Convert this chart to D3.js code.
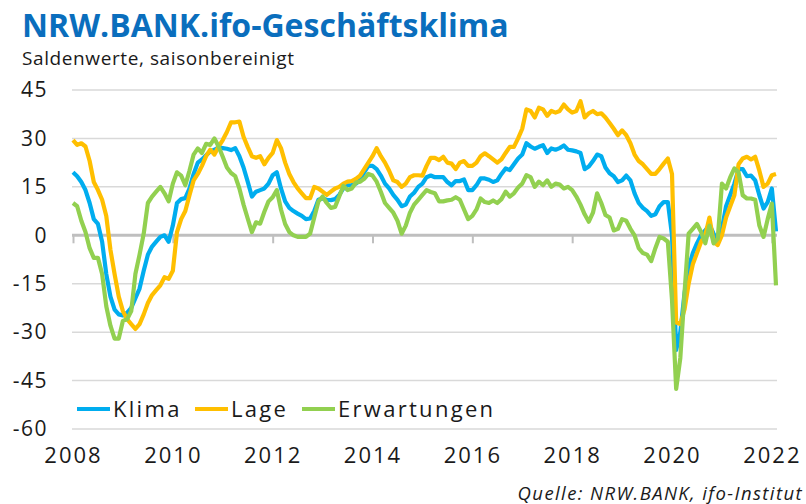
<!DOCTYPE html>
<html>
<head>
<meta charset="utf-8">
<script src="https://cdn.jsdelivr.net/npm/d3@7/dist/d3.min.js"></script>
<style>
body { margin: 0; background: #fff; }
text { font-family: "Open Sans", sans-serif; fill: #1a1a1a; }
</style>
</head>
<body>
<svg id="chart" width="806" height="504"></svg>
<script>
// Monatswerte Jan 2008 - Feb 2022, Saldenwerte
var klima = [
  19.5, 18.3, 16.5, 14, 10, 5, 3.5, -2, -12, -19, -23, -24.5,
  -24.8, -24, -22.5, -19.5, -16.5, -11, -6, -3.5, -2, -0.5, 0, -2,
  3, 10, 11.2, 11.5, 14.5, 19, 22.5, 23.5, 24.8, 26, 26.5, 27.2,
  27, 26.8, 26.4, 27, 24.5, 21, 16.6, 12, 13.5, 14, 14.5, 16,
  18.6, 19.5, 14.5, 10.5, 8.5, 7.5, 6.7, 6, 5, 5.2, 7.5, 11,
  11.4, 11, 10.9, 11.2, 12.5, 14.5, 15.5, 15.5, 16, 17.2, 19.5, 21.5,
  21.5, 20.5, 18.5, 16, 14.5, 12.5, 11, 9, 9.5, 12, 13.2, 15,
  16, 18, 18.5, 18, 18, 18, 16.5, 15.5, 16.8, 16.8, 17.3, 14,
  14, 15.5, 17.6, 17.6, 17.2, 16.5, 17, 19, 20.7, 20.2, 22, 23.8,
  25, 28.5, 27.5, 26.8, 27.4, 27.9, 25.5, 26.9, 26.5, 27, 27.8, 26.5,
  26.3, 26, 25.5, 20.5, 21.3, 23, 25, 24.5, 21, 19.2, 18.3, 16.5,
  17, 18.5, 17, 13, 10, 8.5, 7.5, 6, 6.5, 9, 10.3, 10.3,
  0, -35.5, -30, -18, -10, -5.5, -2.5, 0, 1.5, 3.3, 0.5, -2,
  2, 9, 12.5, 16, 20.5, 20.5, 18.3, 18.5, 17, 12.4, 8.3, 10.3,
  14.5, 1.2
];
var lage = [
  29.5, 28, 28.5, 27.5, 23, 16.5, 14, 11, 6, -4.5, -12, -19,
  -23.5, -26, -27.5, -29, -27.5, -24.5, -21, -18.5, -17, -15.5, -13, -13.5,
  -11, 1, 5, 7.5, 12.4, 17, 19, 21.5, 24.5, 26.5, 25, 27.5,
  29.5, 32, 35, 35, 35.2, 30.5, 27.4, 24.5, 24, 24.5, 22, 24,
  25.5, 29.5, 27, 22.5, 19, 16.5, 14.5, 13, 11.5, 11.5, 15, 14.5,
  13.5, 12.5, 13.5, 14.5, 15, 16, 16.6, 16.8, 17.5, 18.5, 20.5, 22.5,
  24.5, 27, 24.5, 22.5, 20, 17, 16.5, 15, 16, 18, 18.6, 18.6,
  18.5, 21.5, 24, 24, 23.3, 24.3, 22.5, 22.2, 20.5, 22.5, 23, 21.5,
  21.5, 22.5, 24.5, 25.4, 24.5, 23.5, 22.5, 23.5, 25.5, 27.4, 27.4, 30,
  33, 39, 38.5, 36.5, 39.5, 39, 37, 38.5, 38, 38.5, 40.5, 39,
  38, 38.5, 41.5, 36.5, 37.8, 38.5, 37.5, 37.8, 36.5, 34.8, 33, 31,
  32.5, 31, 28.5, 25, 23, 22, 20.5, 19, 19, 20.5, 22.2, 23.8,
  19, -27, -27.5, -23, -15, -9, -5.5, -2, 0, 5.5, -2, -3,
  0, 5.5, 9, 12.4, 22, 23.8, 24.3, 23.5, 24.3, 20, 15, 16,
  18.6, 19
];
var erwartungen = [
  10, 9, 4.5, 1, -4, -7, -7, -12, -22, -28, -32, -32,
  -26.5, -26, -23.5, -12, -6, 0.5, 10, 12, 13.5, 15, 13, 10.5,
  16, 19.5, 18.5, 15.5, 20, 25, 26.9, 25.5, 28.3, 28, 30, 27.5,
  24.3, 21, 19.3, 18.3, 14.5, 9.5, 5.2, 1, 4, 3.6, 7.3, 10.5,
  11.8, 14, 8, 3.5, 1, 0, -0.5, -0.5, -0.5, 0.5, 5.5, 10.5,
  12, 10, 8.5, 8.8, 12, 15.3, 14, 14.5, 16.3, 16.6, 17.5, 19,
  18.5, 16.6, 13.5, 10, 8.5, 7, 4.5, 0.5, 3, 7, 9.5, 11,
  12.5, 14, 13.4, 13, 10.5, 10.5, 10.8, 11, 11.8, 11, 8, 5,
  6, 8, 11.4, 10.3, 10, 10.8, 10, 11.2, 13.5, 12, 13, 14.8,
  16, 18.6, 18, 15, 16.6, 15.5, 17, 15, 16, 15.7, 14.5, 15,
  14, 12, 9.5, 6.5, 4.2, 7, 13, 10, 6.3, 5.5, 1.5, 2,
  5, 4.5, 2, 0, -4, -5.5, -6, -8, -4, -0.5, -1, -2,
  -20, -47.6, -38, -18, 0.5, 2, 3.5, 1, -2.5, 3, -2.5, -1,
  16, 14.5, 18, 20.7, 19.5, 12.4, 11.4, 11.4, 11, 3, -0.5, 5,
  9.8, -15.5
];

var seriesNames = ["Klima", "Lage", "Erwartungen"];
var seriesColors = ["#00adef", "#ffbf00", "#92d050"];
var yTicks = [45, 30, 15, 0, -15, -30, -45, -60];
var yearLabels = [2008, 2010, 2012, 2014, 2016, 2018, 2020, 2022];

var svg = d3.select("#chart");

var x = d3.scaleLinear().domain([0, klima.length - 1]).range([73, 776]);
var y = d3.scaleLinear().domain([-60, 45]).range([429, 90]);

// Titel
svg.append("text")
    .attr("x", 22).attr("y", 37)
    .style("font-size", "32px").style("font-weight", "bold")
    .style("fill", "#0a6ebd")
    .text("NRW.BANK.ifo-Geschäftsklima");
svg.append("text")
    .attr("x", 22).attr("y", 65)
    .style("font-size", "19px")
    .style("letter-spacing", "0.6px")
    .text("Saldenwerte, saisonbereinigt");

// Gitterlinien
svg.append("g")
    .selectAll("line")
    .data(yTicks.filter(function(d) { return d !== 0; }))
    .enter()
    .append("line")
    .attr("x1", 72).attr("x2", 777)
    .attr("y1", function(d) { return y(d); })
    .attr("y2", function(d) { return y(d); })
    .attr("stroke", "#d9d9d9")
    .attr("stroke-width", 1.5);

// y-Achse
var yAxis = svg.append("g")
    .attr("transform", "translate(48,0)")
    .call(d3.axisLeft(y).tickValues(yTicks).tickSize(0).tickPadding(0)
        .tickFormat(function(d) { return String(d); }));
yAxis.select(".domain").remove();
yAxis.selectAll("text")
    .style("font-size", "21px").style("font-family", "Open Sans")
    .style("letter-spacing", "1.5px");

// Nulllinie mit Jahres-Ticks
var yearIdx = yearLabels.map(function(yr) { return (yr - 2008) * 12; });
var zeroAxis = svg.append("g")
    .attr("transform", "translate(0," + y(0) + ")")
    .call(d3.axisBottom(x).tickValues(yearIdx).tickSize(8).tickFormat(""));
zeroAxis.select(".domain").remove();
zeroAxis.selectAll("line").attr("stroke", "#bfbfbf").attr("stroke-width", 2);
svg.append("line")
    .attr("x1", 72).attr("x2", 777)
    .attr("y1", y(0)).attr("y2", y(0))
    .attr("stroke", "#bfbfbf")
    .attr("stroke-width", 3);

// Jahresbeschriftung
var xAxis = svg.append("g")
    .attr("transform", "translate(0,447)")
    .call(d3.axisBottom(x).tickValues(yearIdx).tickSize(0).tickPadding(0)
        .tickFormat(function(d) { return yearLabels[d / 24]; }));
xAxis.select(".domain").remove();
xAxis.selectAll("text")
    .style("font-size", "22px").style("font-family", "Open Sans")
    .style("letter-spacing", "2px");

// Linien
var line = d3.line()
    .x(function(d, i) { return x(i); })
    .y(function(d) { return y(d); });

svg.append("g")
    .selectAll("path")
    .data([klima, lage, erwartungen])
    .enter()
    .append("path")
    .attr("d", line)
    .attr("fill", "none")
    .attr("stroke", function(d, i) { return seriesColors[i]; })
    .attr("stroke-width", 4.2)
    .attr("stroke-linejoin", "round");

// Legende
var legendX = [77, 195, 302];
var legend = svg.append("g")
    .selectAll("g")
    .data(seriesNames)
    .enter()
    .append("g")
    .attr("transform", function(d, i) { return "translate(" + legendX[i] + ",409)"; });
legend.append("line")
    .attr("x1", 0).attr("x2", 33)
    .attr("stroke", function(d, i) { return seriesColors[i]; })
    .attr("stroke-width", 4);
legend.append("text")
    .attr("x", 36).attr("y", 8)
    .style("font-size", "22px")
    .style("letter-spacing", "2.3px")
    .text(function(d) { return d; });

// Quelle
svg.append("text")
    .attr("x", 803).attr("y", 500)
    .attr("text-anchor", "end")
    .style("font-size", "18.5px").style("font-style", "italic")
    .style("letter-spacing", "1.4px")
    .text("Quelle:  NRW.BANK, ifo-Institut");
</script>
</body>
</html>
